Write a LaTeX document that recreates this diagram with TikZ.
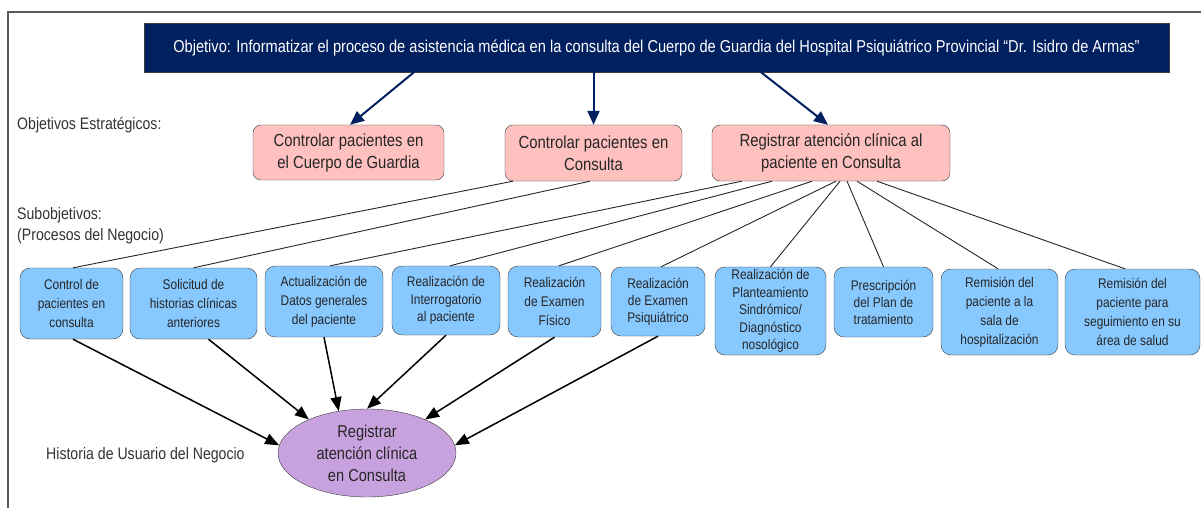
\documentclass[tikz,border=0pt]{standalone}
\usepackage{fontspec}
\setmainfont[FakeStretch=0.85]{Liberation Sans}
\usetikzlibrary{arrows.meta,shapes.geometric}
\definecolor{navy}{RGB}{0,32,96}
\definecolor{pinkfill}{RGB}{255,192,192}
\definecolor{bluefill}{RGB}{135,200,255}
\definecolor{purplefill}{RGB}{200,162,222}
\definecolor{edgegray}{RGB}{60,60,60}
\definecolor{framegray}{RGB}{90,90,90}
\begin{document}
\begin{tikzpicture}[x=1pt,y=-1pt,
  hdr/.style={draw=edgegray, fill=navy, text=white, minimum width=1025pt, minimum height=49pt, inner sep=0pt, font=\fontsize{17.2}{20}\selectfont},
  stratbox/.style={draw=edgegray, fill=pinkfill, rounded corners=8pt, align=center, inner sep=0pt, font=\fontsize{17.5}{22}\selectfont, text=black!85},
  procbox/.style={draw=edgegray, fill=bluefill, rounded corners=10pt, align=center, inner sep=0pt, font=\fontsize{14}{19}\selectfont, text=black!85},
  usbox/.style={ellipse, draw=edgegray, fill=purplefill, minimum width=178pt, minimum height=88pt, inner sep=0pt, align=center, font=\fontsize{17.2}{22}\selectfont, text=black!85},
  lbl/.style={anchor=west, inner sep=0pt, font=\fontsize{16.6}{20}\selectfont, text=black!80},
  hdrarrow/.style={draw=navy, line width=2pt, -{Triangle[length=14pt,width=12pt]}},
  link/.style={draw=black!85, line width=0.9pt},
  flow/.style={draw=black, line width=1.5pt, -{Triangle[length=14pt,width=11pt]}}
]
\useasboundingbox (0,0) rectangle (1201,508);
\fill[white] (0,0) rectangle (1201,508);
% frame
\coordinate (fbl) at (8,508);
\coordinate (ftl) at (8,12);
\coordinate (ftr) at (1201,12);
\draw[framegray, line width=1.5pt] (fbl) -- (ftl) -- (ftr);

% header
\node[hdr] (obj) at (656.5,47.5) {Objetivo: Informatizar el proceso de asistencia médica en la consulta del Cuerpo de Guardia del Hospital Psiquiátrico Provincial “Dr. Isidro de Armas”};

% labels
\node[lbl] (l1) at (17,125) {Objetivos Estratégicos:};
\node[lbl] (l2) at (17,215) {Subobjetivos:};
\node[lbl] (l3) at (17,236) {(Procesos del Negocio)};
\node[lbl] (l4) at (46,455) {Historia de Usuario del Negocio};

% strategic objectives
\node[stratbox, minimum width=191pt, minimum height=55pt] (A) at (348.5,152.5) {Controlar pacientes en\\el Cuerpo de Guardia};
\node[stratbox, minimum width=177pt, minimum height=56pt] (B) at (593.5,153) {Controlar pacientes en\\Consulta};
\node[stratbox, minimum width=238pt, minimum height=56pt] (C) at (831,153) {Registrar atención clínica al\\paciente en Consulta};

% processes
\node[procbox, minimum width=103pt, minimum height=71pt] (p1) at (71.5,303.5) {Control de\\pacientes en\\consulta};
\node[procbox, minimum width=127pt, minimum height=71pt] (p2) at (193.5,303.5) {Solicitud de\\historias clínicas\\anteriores};
\node[procbox, minimum width=118pt, minimum height=71pt] (p3) at (324,301.5) {Actualización de\\Datos generales\\del paciente};
\node[procbox, minimum width=108pt, minimum height=69pt, font=\fontsize{14}{17.5}\selectfont] (p4) at (446,300.5) {Realización de\\Interrogatorio\\al paciente};
\node[procbox, minimum width=93pt, minimum height=71pt] (p5) at (554.5,301.5) {Realización\\de Examen\\Físico};
\node[procbox, minimum width=94pt, minimum height=69pt, font=\fontsize{14}{17}\selectfont] (p6) at (658,301.5) {Realización\\de Examen\\Psiquiátrico};
\node[procbox, minimum width=111pt, minimum height=88pt, font=\fontsize{14}{17.5}\selectfont] (p7) at (770.5,311) {Realización de\\Planteamiento\\Sindrómico/\\Diagnóstico\\nosológico};
\node[procbox, minimum width=99pt, minimum height=70pt, font=\fontsize{14}{17}\selectfont] (p8) at (883.5,302) {Prescripción\\del Plan de\\tratamiento};
\node[procbox, minimum width=117pt, minimum height=86pt] (p9) at (999.5,312) {Remisión del\\paciente a la\\sala de\\hospitalización};
\node[procbox, minimum width=135pt, minimum height=86pt] (p10) at (1132.5,312) {Remisión del\\paciente para\\seguimiento en su\\área de salud};

% user story
\node[usbox] (us) at (367,453) {Registrar\\atención clínica\\en Consulta};

% header arrows
\draw[hdrarrow] ([xshift=-242.5pt]obj.south) -- ([xshift=1.5pt]A.north);
\draw[hdrarrow] (B.north |- obj.south) -- (B.north);
\draw[hdrarrow] ([xshift=104.5pt]obj.south) -- ([xshift=-3pt]C.north);

% links to processes
\draw[link] ([xshift=-80.5pt]B.south) -- ([xshift=1.5pt]p1.north);
\draw[link] ([xshift=-3.5pt]B.south) -- (p2.north);
\draw[link] ([xshift=-89pt]C.south) -- ([xshift=6pt]p3.north);
\draw[link] ([xshift=-59pt]C.south) -- ([xshift=4pt]p4.north);
\draw[link] ([xshift=-19pt]C.south) -- ([xshift=4.5pt]p5.north);
\draw[link] ([xshift=5pt]C.south) -- ([xshift=3pt]p6.north);
\draw[link] ([xshift=9pt]C.south) -- (p7.north);
\draw[link] ([xshift=16pt]C.south) -- (p8.north);
\draw[link] ([xshift=26pt]C.south) -- ([xshift=-1.5pt]p9.north);
\draw[link] ([xshift=46pt]C.south) -- ([xshift=-7.5pt]p10.north);

% flows to user story
\draw[flow] ([xshift=1.5pt]p1.south) -- (us.175);
\draw[flow] ([xshift=15pt]p2.south) -- (us.150);
\draw[flow] (p3.south) -- (us.124);
\draw[flow] (p4.south) -- (us.90);
\draw[flow] (p5.south) -- (us.30);
\draw[flow] (p6.south) -- (us.5);
\end{tikzpicture}
\end{document}
